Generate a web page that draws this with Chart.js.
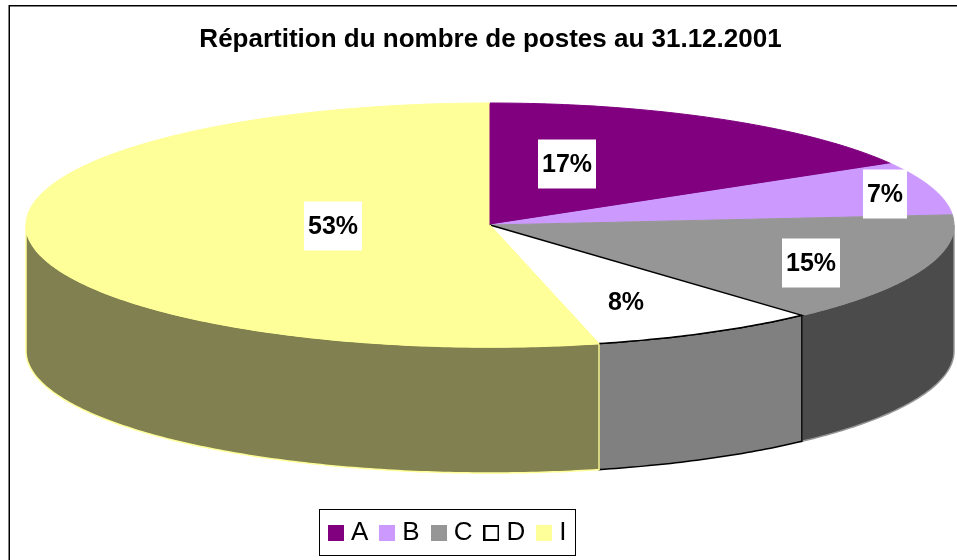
<!DOCTYPE html>
<html><head><meta charset="utf-8">
<style>html,body{margin:0;padding:0;background:#fff}canvas{display:block}</style>
<script src="https://cdn.jsdelivr.net/npm/chart.js@4"></script></head>
<body><div style="width:957px;height:560px"><canvas id="c"></canvas></div>
<script>
const titleText = 'Répartition du nombre de postes au 31.12.2001';
const categories = ['A','B','C','D','I'];
const values = [16.5,7.0,14.5,7.9,53.4];
const percentLabels = ['17%','7%','15%','8%','53%'];
const topColors = ['#800080','#CC99FF','#969696','#FFFFFF','#FFFF99'];
const wallColors = ['#400040','#665080','#4B4B4B','#808080','#808050'];
const edgeColors = ['#800080','#CC99FF','#969696','#000000','#FFFF99'];
const labelCentres = [[567,164],[885,194],[811,263],[626,302],[333,226]];
const pie = {cx:490, cy:225, rx:464, ry:122, depth:126};
const FONT = 'Liberation Sans, Arial, sans-serif';

function pt(a,dy){return [pie.cx+pie.rx*Math.cos(a), pie.cy+pie.ry*Math.sin(a)+(dy||0)];}
function ellipseArc(ctx,a0,a1,dy,begin){
  const n=Math.max(2,Math.ceil(Math.abs(a1-a0)*80));
  for(let i=0;i<=n;i++){const a=a0+(a1-a0)*i/n,p=pt(a,dy);
    if(i===0&&begin)ctx.moveTo(p[0],p[1]);else ctx.lineTo(p[0],p[1]);}
}
function swatch(i){
  const c=document.createElement('canvas');c.width=16;c.height=16;
  const x=c.getContext('2d');x.fillStyle=topColors[i];x.fillRect(0,0,16,16);
  if(i===3){x.strokeStyle='#000';x.lineWidth=2;x.strokeRect(1,1,14,14);}
  return c;
}
const pie3d = {
  id:'pie3d',
  beforeDraw(chart){
    const ctx=chart.ctx;
    ctx.save();ctx.fillStyle='#fff';ctx.fillRect(0,0,chart.width,chart.height);
    ctx.strokeStyle='#000';ctx.lineWidth=1.5;
    ctx.strokeRect(9.25,5.75,chart.width+20,chart.height+20);
    ctx.restore();
    const lg=chart.legend;
    const w=lg.right-lg.left,h=lg.bottom-lg.top;
    lg.left=317;lg.right=317+w;lg.top=503;lg.bottom=503+h;
  },
  beforeDatasetsDraw(chart){
    const ctx=chart.ctx, arcs=chart.getDatasetMeta(0).data;
    ctx.save();
    arcs.forEach((arc,i)=>{
      const s=Math.max(arc.startAngle,0), e=Math.min(arc.endAngle,Math.PI);
      if(e<=s)return;
      ctx.beginPath();
      ellipseArc(ctx,s,e,0,true);
      ellipseArc(ctx,e,s,pie.depth,false);
      ctx.closePath();
      ctx.fillStyle=wallColors[i];ctx.fill();
      ctx.strokeStyle=edgeColors[i];ctx.lineWidth=1.5;ctx.stroke();
    });
    ctx.restore();
    const a=arcs[0];
    ctx.save();
    ctx.translate(pie.cx,pie.cy);
    ctx.scale(pie.rx/a.outerRadius,pie.ry/a.outerRadius);
    ctx.translate(-a.x,-a.y);
  },
  afterDatasetsDraw(chart){
    const ctx=chart.ctx, arcs=chart.getDatasetMeta(0).data;
    ctx.restore();
    ctx.save();
    arcs.forEach((arc,i)=>{
      ctx.beginPath();ctx.moveTo(pie.cx,pie.cy);
      ellipseArc(ctx,arc.startAngle,arc.endAngle,0,false);
      ctx.strokeStyle=edgeColors[i];ctx.lineWidth=i===3?1.5:1;ctx.stroke();
    });
    ctx.font='bold 25px '+FONT;ctx.textAlign='center';ctx.textBaseline='middle';
    percentLabels.forEach((t,i)=>{
      const [x,y]=labelCentres[i];
      const w=Math.round(ctx.measureText(t).width)+8;
      ctx.fillStyle='#fff';ctx.fillRect(x-w/2,y-24.5,w,49);
      ctx.fillStyle='#000';ctx.fillText(t,x,y+1);
    });
    ctx.restore();
  },
  afterDraw(chart){
    const ctx=chart.ctx;
    ctx.save();ctx.strokeStyle='#000';ctx.lineWidth=1;
    ctx.strokeRect(319.5,509.5,256,46);
    ctx.restore();
  }
};
new Chart(document.getElementById('c'),{
  type:'pie',
  data:{labels:categories,datasets:[{data:values,backgroundColor:topColors,borderWidth:0,radius:122}]},
  plugins:[pie3d],
  options:{
    responsive:true,maintainAspectRatio:false,animation:false,
    events:[],
    layout:{padding:{left:24}},
    plugins:{
      tooltip:{enabled:false},
      title:{display:true,text:titleText,color:'#000',font:{family:FONT,size:26,weight:'bold'},padding:{top:24,bottom:10}},
      legend:{display:true,position:'bottom',align:'start',
        labels:{usePointStyle:true,pointStyleWidth:4,boxWidth:4,boxHeight:16,padding:17,color:'#000',font:{family:FONT,size:26},
          generateLabels(chart){
            const items=Chart.overrides.pie.plugins.legend.labels.generateLabels(chart);
            items.forEach((it,i)=>{it.pointStyle=swatch(i);it.lineWidth=0;});
            return items;
          }}}
    }
  }
});
</script></body></html>
